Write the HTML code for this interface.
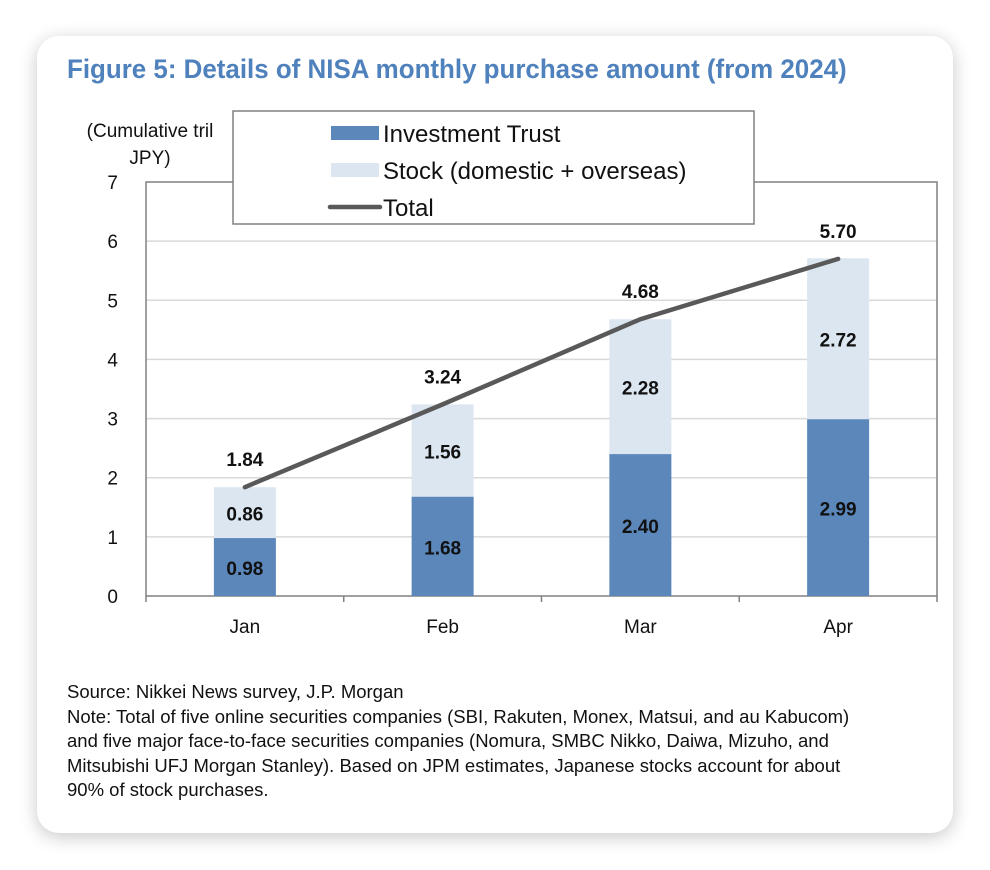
<!DOCTYPE html>
<html><head><meta charset="utf-8"><style>
html,body{margin:0;padding:0;background:#fff;}
body{width:990px;height:870px;position:relative;overflow:hidden;font-family:"Liberation Sans",Arial,sans-serif;}
.card{position:absolute;left:37px;top:36px;width:916px;height:797px;background:#fff;border-radius:22px;box-shadow:0 4px 18px rgba(0,0,0,0.22);}
.title{position:absolute;left:67px;top:54px;font-size:27px;font-weight:bold;color:#4f81bd;white-space:nowrap;transform:scaleX(0.96);transform-origin:left;}
.notes{position:absolute;left:67px;top:680px;font-size:18.5px;line-height:24.5px;color:#111;white-space:nowrap;}
svg{position:absolute;left:0;top:0;}
</style></head><body>
<div class="card"></div>
<div class="title">Figure 5: Details of NISA monthly purchase amount (from 2024)</div>
<svg id="chart" width="990" height="870" font-family="Liberation Sans, Arial, sans-serif"></svg>
<div class="notes">Source: Nikkei News survey, J.P. Morgan<br>Note: Total of five online securities companies (SBI, Rakuten, Monex, Matsui, and au Kabucom)<br>and five major face-to-face securities companies (Nomura, SMBC Nikko, Daiwa, Mizuho, and<br>Mitsubishi UFJ Morgan Stanley). Based on JPM estimates, Japanese stocks account for about<br>90% of stock purchases.</div>
<script>
const categories=["Jan","Feb","Mar","Apr"];
const trustValues=[0.98,1.68,2.40,2.99];
const stockValues=[0.86,1.56,2.28,2.72];
const totalValues=[1.84,3.24,4.68,5.70];
const yTicks=[0,1,2,3,4,5,6,7];
const NS="http://www.w3.org/2000/svg";
const svg=document.getElementById('chart');
const X0=146,X1=937,Y0=596,Y1=182,YMAX=7;
const band=(X1-X0)/categories.length;
const xc=i=>X0+band*(i+0.5);
const y=v=>Y0-(v/YMAX)*(Y0-Y1);
function mk(tag,attrs,txt){const e=document.createElementNS(NS,tag);for(const k in attrs)e.setAttribute(k,attrs[k]);if(txt!==undefined)e.textContent=txt;svg.appendChild(e);return e;}
let e;
yTicks.forEach(t=>{
 if(t>0&&t<YMAX){
  e=mk('line',{x1:X0,x2:X1,y1:y(t),y2:y(t),stroke:'#d9d9d9','stroke-width':1.5});
  
  
 }
 e=mk('text',{x:118,y:y(t)+7,'font-size':19,'text-anchor':'end',fill:'#111'},String(t));
 
 
});
e=mk('rect',{x:X0,y:Y1,width:X1-X0,height:Y0-Y1,fill:'none',stroke:'#808080','stroke-width':1.5});


for(let i=0;i<=categories.length;i++){
 e=mk('line',{x1:X0+band*i,x2:X0+band*i,y1:Y0,y2:Y0+6,stroke:'#808080','stroke-width':1.5});
 
 
}
e=mk('text',{x:150,y:137,'font-size':19,'text-anchor':'middle',fill:'#111'},'(Cumulative tril');


e=mk('text',{x:150,y:164,'font-size':19,'text-anchor':'middle',fill:'#111'},'JPY)');


const BW=62;
categories.forEach((c,i)=>{
 const cx=xc(i);
 e=mk('rect',{x:cx-BW/2,y:y(trustValues[i]),width:BW,height:Y0-y(trustValues[i]),fill:'#5b87bb'});
 
 
 const st=trustValues[i]+stockValues[i];
 e=mk('rect',{x:cx-BW/2,y:y(st),width:BW,height:y(trustValues[i])-y(st),fill:'#dce6f0'});
 
 
 e=mk('text',{x:cx,y:(y(trustValues[i])+Y0)/2+8,'font-size':19,'font-weight':'bold','text-anchor':'middle',fill:'#111'},trustValues[i].toFixed(2));
 
 
 e=mk('text',{x:cx,y:(y(st)+y(trustValues[i]))/2+8,'font-size':19,'font-weight':'bold','text-anchor':'middle',fill:'#111'},stockValues[i].toFixed(2));
 
 
 e=mk('text',{x:cx,y:Y0+37,'font-size':19,'text-anchor':'middle',fill:'#111'},c);
 
 
});
const pts=totalValues.map((v,i)=>xc(i)+','+y(v)).join(' ');
e=mk('polyline',{points:pts,fill:'none',stroke:'#595959','stroke-width':4.5,'stroke-linecap':'round'});


totalValues.forEach((v,i)=>{
 e=mk('text',{x:xc(i),y:y(v)-21,'font-size':19,'font-weight':'bold','text-anchor':'middle',fill:'#111'},v.toFixed(2));
 
 
});
e=mk('rect',{x:233,y:111,width:521,height:113,fill:'#fff',stroke:'#808080','stroke-width':1.5});


e=mk('rect',{x:331,y:126,width:48,height:14,fill:'#5b87bb'});


e=mk('text',{x:383,y:142,'font-size':24,fill:'#111'},'Investment Trust');


e=mk('rect',{x:331,y:163,width:48,height:14,fill:'#dce6f0'});


e=mk('text',{x:383,y:179,'font-size':24,fill:'#111'},'Stock (domestic + overseas)');


e=mk('line',{x1:330,x2:380,y1:207,y2:207,stroke:'#595959','stroke-width':4.5,'stroke-linecap':'round'});


e=mk('text',{x:383,y:216,'font-size':24,fill:'#111'},'Total');


</script>
</body></html>
